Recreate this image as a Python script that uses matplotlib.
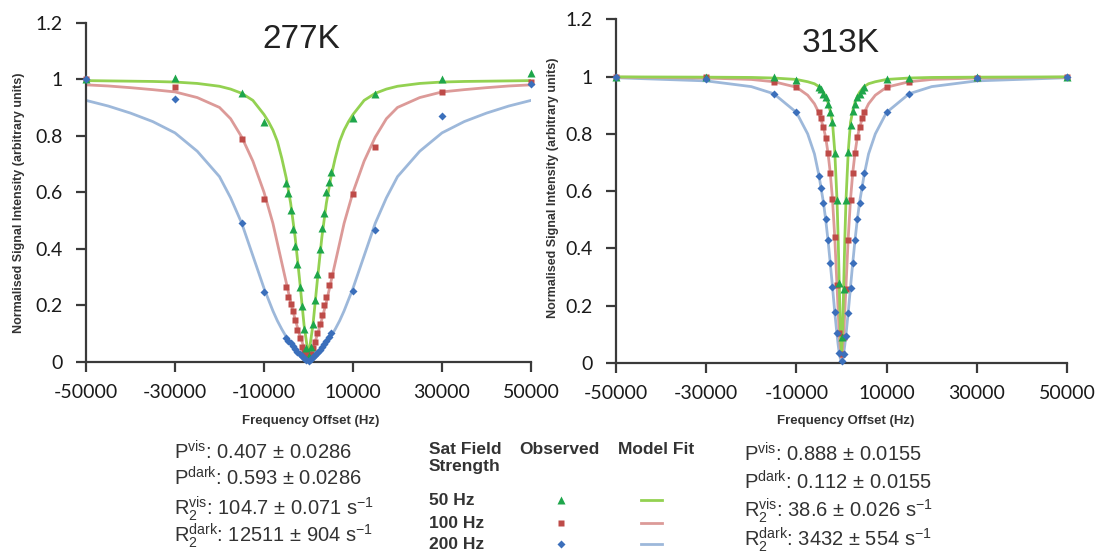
import matplotlib
matplotlib.use('Agg')
import matplotlib.pyplot as plt

plt.rcParams['font.family'] = ['Liberation Sans', 'DejaVu Sans']
plt.rcParams['mathtext.fontset'] = 'custom'
plt.rcParams['mathtext.rm'] = 'Liberation Sans'

# ---- data --------------------------------------------------------------------
# observed points: far offsets + dense offsets around the centre
obs_far_x = [-50000, -30000, -15000, -10000, 10000, 15000, 30000, 50000]
obs_mid_x = [-5000, -4500, -4000, -3500, -3000, -2500, -2000, -1500, -1000, -500, 0,
             500, 1000, 1500, 2000, 2500, 3000, 3500, 4000, 4500, 5000]

# 277K observed
g277_far = [1.0, 1.006, 0.952, 0.847, 0.861, 0.947, 1.002, 1.023]
g277_mid = [0.631, 0.596, 0.537, 0.471, 0.411, 0.347, 0.263, 0.198, 0.117, 0.05, 0.02,
            0.053, 0.133, 0.218, 0.309, 0.398, 0.472, 0.525, 0.602, 0.637, 0.673]
r277_far = [1.0, 0.971, 0.79, 0.575, 0.594, 0.761, 0.953, 0.991]
r277_mid = [0.266, 0.228, 0.203, 0.18, 0.148, 0.112, 0.083, 0.053, 0.035, 0.027, 0.02,
            0.027, 0.047, 0.071, 0.1, 0.133, 0.165, 0.2, 0.23, 0.272, 0.307]
b277_far = [1.0, 0.929, 0.492, 0.248, 0.251, 0.465, 0.87, 0.983]
b277_mid = [0.085, 0.075, 0.065, 0.055, 0.045, 0.036, 0.027, 0.019, 0.012, 0.007, 0.004,
            0.008, 0.015, 0.022, 0.031, 0.041, 0.052, 0.063, 0.075, 0.088, 0.103]

# 313K observed
g313_far = [1.0, 0.998, 0.997, 0.989, 0.99, 0.995, 0.998, 0.999]
g313_mid = [0.965, 0.955, 0.94, 0.93, 0.905, 0.875, 0.84, 0.733, 0.57, 0.278, 0.09,
            0.26, 0.57, 0.736, 0.83, 0.88, 0.905, 0.93, 0.94, 0.953, 0.965]
r313_far = [1.0, 0.998, 0.982, 0.965, 0.965, 0.982, 0.995, 0.997]
r313_mid = [0.877, 0.854, 0.825, 0.787, 0.734, 0.665, 0.572, 0.441, 0.272, 0.104, 0.03,
            0.09, 0.26, 0.431, 0.568, 0.665, 0.734, 0.79, 0.825, 0.854, 0.877]
b313_far = [1.0, 0.991, 0.939, 0.875, 0.875, 0.939, 0.995, 0.997]
b313_mid = [0.653, 0.61, 0.56, 0.502, 0.429, 0.348, 0.266, 0.179, 0.104, 0.034, 0.006,
            0.03, 0.095, 0.173, 0.261, 0.348, 0.429, 0.503, 0.558, 0.613, 0.662]

# model fit curves
fit277_x = [-50000, -45000, -40000, -35000, -30000, -25000, -20000, -17500, -15000, -12500,
            -10000, -9000, -8000, -7000, -6000, -5000, -4000, -3000, -2000, -1000, 0,
            1000, 2000, 3000, 4000, 5000, 6000, 7000, 8000, 9000, 10000, 12500, 15000,
            17500, 20000, 25000, 30000, 35000, 40000, 45000, 50000]
fit277_g = [0.995, 0.994, 0.993, 0.992, 0.99, 0.985, 0.975, 0.965, 0.95, 0.925,
            0.875, 0.85, 0.82, 0.78, 0.72, 0.65, 0.56, 0.44, 0.29, 0.13, 0.02,
            0.13, 0.29, 0.44, 0.56, 0.65, 0.72, 0.78, 0.82, 0.85, 0.875, 0.925, 0.95,
            0.965, 0.975, 0.985, 0.99, 0.992, 0.993, 0.994, 0.995]
fit277_r = [0.98, 0.976, 0.97, 0.963, 0.955, 0.935, 0.9, 0.86, 0.795, 0.71,
            0.6, 0.545, 0.49, 0.42, 0.35, 0.28, 0.21, 0.15, 0.095, 0.05, 0.02,
            0.05, 0.095, 0.15, 0.21, 0.28, 0.35, 0.42, 0.49, 0.545, 0.6, 0.71, 0.795,
            0.86, 0.9, 0.935, 0.955, 0.963, 0.97, 0.976, 0.98]
fit277_b = [0.925, 0.905, 0.88, 0.85, 0.81, 0.745, 0.655, 0.58, 0.49, 0.375,
            0.26, 0.22, 0.18, 0.145, 0.115, 0.088, 0.065, 0.045, 0.027, 0.012, 0.005,
            0.012, 0.027, 0.045, 0.065, 0.088, 0.115, 0.145, 0.18, 0.22, 0.26, 0.375, 0.49,
            0.58, 0.655, 0.745, 0.81, 0.85, 0.88, 0.905, 0.925]

fit313_x = [-50000, -30000, -20000, -15000, -10000, -7500, -6000, -5000, -4000, -3500,
            -3000, -2500, -2000, -1500, -1000, -750, -500, -250, 0, 250, 500, 750, 1000,
            1500, 2000, 2500, 3000, 3500, 4000, 5000, 6000, 7500, 10000, 15000, 20000,
            30000, 50000]
fit313_g = [0.999, 0.998, 0.997, 0.995, 0.99, 0.982, 0.975, 0.965, 0.945, 0.93,
            0.91, 0.88, 0.84, 0.74, 0.57, 0.44, 0.28, 0.12, 0.03, 0.12, 0.28, 0.44, 0.57,
            0.74, 0.84, 0.88, 0.91, 0.93, 0.945, 0.965, 0.975, 0.982, 0.99, 0.995, 0.997,
            0.998, 0.999]
fit313_r = [0.998, 0.995, 0.99, 0.982, 0.963, 0.935, 0.905, 0.873, 0.822, 0.787,
            0.734, 0.665, 0.572, 0.44, 0.27, 0.185, 0.104, 0.05, 0.02, 0.05, 0.104, 0.185,
            0.27, 0.44, 0.572, 0.665, 0.734, 0.787, 0.822, 0.873, 0.905, 0.935, 0.963,
            0.982, 0.99, 0.995, 0.998]
fit313_b = [0.996, 0.985, 0.965, 0.94, 0.875, 0.8, 0.73, 0.655, 0.56, 0.5,
            0.43, 0.35, 0.266, 0.178, 0.1, 0.065, 0.034, 0.015, 0.005, 0.015, 0.034, 0.065,
            0.1, 0.178, 0.266, 0.35, 0.43, 0.5, 0.56, 0.655, 0.73, 0.8, 0.875, 0.94, 0.965,
            0.985, 0.996]

x_ticks = [-50000, -30000, -10000, 10000, 30000, 50000]
y_ticks = [0, 0.2, 0.4, 0.6, 0.8, 1.0, 1.2]
y_tick_labels = ['0', '0.2', '0.4', '0.6', '0.8', '1', '1.2']

fit_left = [r'P$^{\mathregular{vis}}$: 0.407 ± 0.0286',
            r'P$^{\mathregular{dark}}$: 0.593 ± 0.0286',
            r'R$_{\mathregular{2}}^{\mathregular{vis}}$: 104.7 ± 0.071 s$^{\mathregular{-1}}$',
            r'R$_{\mathregular{2}}^{\mathregular{dark}}$: 12511 ± 904 s$^{\mathregular{-1}}$']
fit_right = [r'P$^{\mathregular{vis}}$: 0.888 ± 0.0155',
             r'P$^{\mathregular{dark}}$: 0.112 ± 0.0155',
             r'R$_{\mathregular{2}}^{\mathregular{vis}}$: 38.6 ± 0.026 s$^{\mathregular{-1}}$',
             r'R$_{\mathregular{2}}^{\mathregular{dark}}$: 3432 ± 554 s$^{\mathregular{-1}}$']
field_labels = ['50 Hz', '100 Hz', '200 Hz']

# colours: marker / line
C_G, C_R, C_B = '#1ea64b', '#be4b48', '#3b6fbb'
L_G, L_R, L_B = '#93d151', '#dc9a98', '#9db8da'
MK = {'g': ('^', 5.8), 'r': ('s', 5.0), 'b': ('D', 3.8)}


def draw_panel(ax, fx, fg, fr, fb, far, mid):
    # fitted lines first, markers over them
    ax.plot(fx, fb, color=L_B, lw=2.0, zorder=2)
    ax.plot(fx, fr, color=L_R, lw=2.0, zorder=2)
    ax.plot(fx, fg, color=L_G, lw=2.0, zorder=2)
    for key, col in (('r', C_R), ('g', C_G), ('b', C_B)):
        m, s = MK[key]
        ax.plot(obs_far_x, far[key], ls='none', marker=m, ms=s, color=col, mec='none',
                zorder=3, clip_on=False)
        ax.plot(obs_mid_x, mid[key], ls='none', marker=m, ms=s, color=col, mec='none',
                zorder=3, clip_on=False)

    ax.set_xlim(-50000, 50000)
    ax.set_ylim(0, 1.2)
    ax.set_xticks(x_ticks)
    ax.set_xticklabels([str(t) for t in x_ticks])
    ax.set_yticks(y_ticks)
    ax.set_yticklabels(y_tick_labels)
    for sp in ('top', 'right'):
        ax.spines[sp].set_visible(False)
    for sp in ('left', 'bottom'):
        ax.spines[sp].set_color('#3a3a3a')
        ax.spines[sp].set_linewidth(1.6)
    ax.tick_params(direction='out', length=7, width=1.6, color='#3a3a3a',
                   labelsize=14, labelcolor='#1a1a1a')
    ax.tick_params(axis='x', pad=9)
    ax.tick_params(axis='y', pad=10)
    for lab in ax.get_xticklabels() + ax.get_yticklabels():
        lab.set_family(['Lato', 'DejaVu Sans'])
    ax.set_ylabel('Normalised Signal Intensity (arbitrary units)', fontsize=9,
                  fontweight='bold', color='#333333')


fig = plt.figure(figsize=(10.99, 5.54), dpi=100)

ax1 = fig.add_axes([86 / 1099, 1 - 361.7 / 554, 445 / 1099, 339 / 554])
draw_panel(ax1, fit277_x, fit277_g, fit277_r, fit277_b,
           {'g': g277_far, 'r': r277_far, 'b': b277_far},
           {'g': g277_mid, 'r': r277_mid, 'b': b277_mid})
ax1.yaxis.set_label_coords(-0.137, 0.468)

ax2 = fig.add_axes([616 / 1099, 1 - 363 / 554, 451 / 1099, 343.7 / 554])
draw_panel(ax2, fit313_x, fit313_g, fit313_r, fit313_b,
           {'g': g313_far, 'r': r313_far, 'b': b313_far},
           {'g': g313_mid, 'r': r313_mid, 'b': b313_mid})
ax2.yaxis.set_label_coords(-0.127, 0.509)

# overlay in pixel coordinates for titles, captions and the key
ov = fig.add_axes([0, 0, 1, 1])
ov.set_xlim(0, 1099)
ov.set_ylim(554, 0)
ov.axis('off')

ov.text(301, 40, '277K', fontsize=24, ha='center', va='center', color='#222222')
ov.text(841, 43, '313K', fontsize=24, ha='center', va='center', color='#222222')
ov.text(311, 421, 'Frequency Offset (Hz)', fontsize=9.5, fontweight='bold',
        ha='center', va='center', color='#333333')
ov.text(846, 421, 'Frequency Offset (Hz)', fontsize=9.5, fontweight='bold',
        ha='center', va='center', color='#333333')

for s, yb in zip(fit_left, [459, 485, 515, 542]):
    ov.text(174, yb, s, fontsize=14.5, ha='left', va='baseline', color='#333333')
for s, yb in zip(fit_right, [461, 490, 517, 546]):
    ov.text(744, yb, s, fontsize=14.5, ha='left', va='baseline', color='#333333')

hdr = dict(fontsize=12.5, fontweight='bold', va='baseline', color='#333333')
ov.text(429, 454, 'Sat Field', ha='left', **hdr)
ov.text(429, 471, 'Strength', ha='left', **hdr)
ov.text(519, 454, 'Observed', ha='left', **hdr)
ov.text(618, 454, 'Model Fit', ha='left', **hdr)

key_rows = [(505, 500, 'g', C_G, L_G), (528, 523, 'r', C_R, L_R), (549, 544, 'b', C_B, L_B)]
for lab, (yb, ym, k, mc, lc) in zip(field_labels, key_rows):
    ov.text(429, yb, lab, ha='left', **hdr)
    m, s = MK[k]
    ov.plot([561], [ym], ls='none', marker=m, ms=s, color=mc, mec='none')
    ov.plot([641, 662], [ym, ym], color=lc, lw=2.0)

fig.savefig('out.png', dpi=100)
